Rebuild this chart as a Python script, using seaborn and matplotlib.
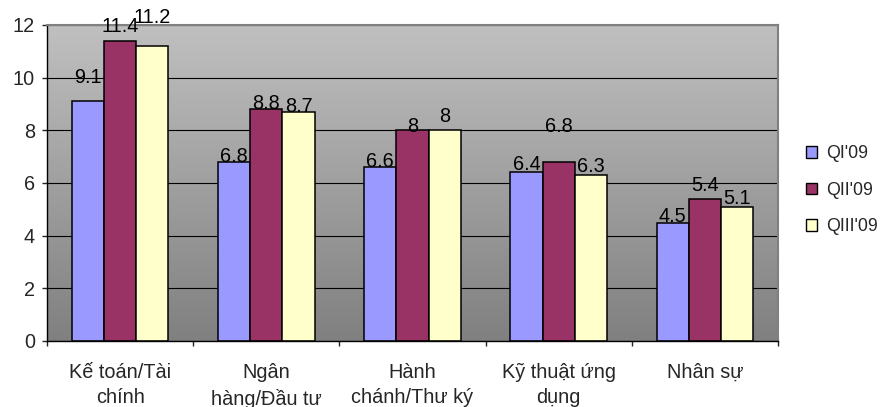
import matplotlib
matplotlib.use("Agg")
import matplotlib.pyplot as plt
from matplotlib.colors import LinearSegmentedColormap
from matplotlib.patches import Patch
import numpy as np
import pandas as pd
import seaborn as sns

# data
categories = ["Kế toán/Tài\nchính", "Ngân\nhàng/Đầu tư", "Hành\nchánh/Thư ký",
              "Kỹ thuật ứng\ndụng", "Nhân sự"]
series = ["QI'09", "QII'09", "QIII'09"]
q1 = [9.1, 6.8, 6.6, 6.4, 4.5]
q2 = [11.4, 8.8, 8.0, 6.8, 5.4]
q3 = [11.2, 8.7, 8.0, 6.3, 5.1]
colors = ["#9999FF", "#993366", "#FFFFCC"]
# how far (px) each value label sits above its bar, as in the picture
lift = [[18, 0, 0, 2, 0],
        [9, 0, -2, 30, 8],
        [23, 0, 8, 3, 3]]

df = pd.DataFrame({
    "cat": categories * 3,
    "series": [s for s in series for _ in categories],
    "val": q1 + q2 + q3,
})

sns.set_style("white")
plt.rcParams["font.family"] = ["Liberation Sans", "DejaVu Sans"]
fs = 14.3

fig = plt.figure(figsize=(8.8, 4.07), dpi=100)
ax = fig.add_axes([47 / 880, 66 / 407, 731 / 880, 316 / 407])

sns.barplot(data=df, x="cat", y="val", hue="series", palette=colors,
            width=0.66, edgecolor="black", linewidth=1.1, legend=False,
            saturation=1, ax=ax)

# gradient plot area
cmap = LinearSegmentedColormap.from_list("bg", ["#C0C0C0", "#808080"])
ax.imshow(np.linspace(0, 1, 256).reshape(-1, 1), extent=[-0.5, 4.5, 0, 12],
          aspect="auto", cmap=cmap, zorder=0)
ax.set_xlim(-0.5, 4.5)
ax.set_ylim(0, 12)
ax.set_yticks(np.arange(0, 13, 2))
ax.set_axisbelow(True)
ax.yaxis.grid(True, color="black", linewidth=0.8)
ax.set_xlabel("")
ax.set_ylabel("")

for sp in ["top", "right"]:
    ax.spines[sp].set_color("#808080")
    ax.spines[sp].set_linewidth(1.5)
for sp in ["left", "bottom"]:
    ax.spines[sp].set_color("black")
    ax.spines[sp].set_linewidth(1.0)

ax.tick_params(axis="y", length=3.6, width=1, pad=5, labelsize=fs, left=True)
ax.set_xticks(np.arange(-0.5, 5, 1), minor=True)
ax.tick_params(axis="x", which="minor", length=3.6, width=1, bottom=True)
ax.tick_params(axis="x", which="major", length=0, pad=16, labelsize=fs)
for t in ax.get_xticklabels():
    t.set_linespacing(1.4)

# value labels
for i, cont in enumerate(ax.containers):
    for j, bar in enumerate(cont):
        h = bar.get_height()
        ax.annotate(f"{h:g}", (bar.get_x() + bar.get_width() / 2, h),
                    xytext=(0, lift[i][j]), textcoords="offset pixels",
                    ha="center", va="baseline", fontsize=fs, color="black",
                    annotation_clip=False)

handles = [Patch(facecolor=c, edgecolor="black", linewidth=1.0) for c in colors]
fig.legend(handles, series, loc="center left", bbox_to_anchor=(806 / 880, 0.533),
           frameon=False, fontsize=12.8, borderpad=0, borderaxespad=0,
           handlelength=0.62, handleheight=0.62, handletextpad=0.5,
           labelspacing=1.1)

fig.savefig("out.png", dpi=100)
